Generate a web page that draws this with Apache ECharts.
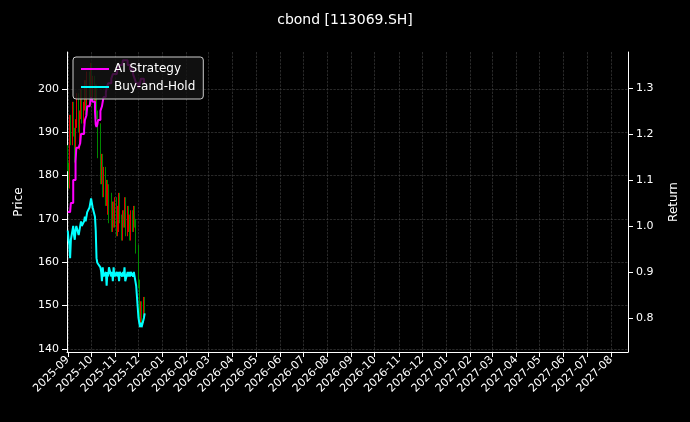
<!DOCTYPE html>
<html>
<head>
<meta charset="utf-8">
<script src="https://cdn.jsdelivr.net/npm/echarts@6/dist/echarts.min.js"></script>
<style>html,body{margin:0;background:#000}#c{width:690px;height:422px}</style>
</head>
<body>
<div id="c"></div>
<script>
// closes, Sep 1 .. Dec 9 2025 (weekdays)
var closes = [182,178,186,193,188,196,190,184,192,198,191,187,194,199,193,196,201,195,198,203,197,200,
  205,199,202,196,200,194,190,185,191,179,184,176,181,174,178,172,177,170,175,168,173,169,174,
  167,172,168,175,170,166,171,169,174,167,172,168,170,166,171,168,172,169,167,163,
  155,148,146,150,147,151,149];
var aiReturn = [1.03,1.03,1.03,1.03,1.05,1.10,1.10,1.10,1.14,1.17,1.17,1.17,1.18,1.20,1.20,1.21,1.23,1.23,1.24,1.26,1.26,1.27,
  1.28,1.28,1.27,1.25,1.22,1.215,1.22,1.23,1.25,1.25,1.26,1.27,1.28,1.29,1.30,1.30,1.31,1.31,1.32,1.32,1.33,1.33,1.33,
  1.33,1.34,1.34,1.35,1.35,1.35,1.36,1.36,1.36,1.36,1.35,1.35,1.35,1.34,1.34,1.33,1.33,1.32,1.32,1.31,
  1.30,1.30,1.31,1.32,1.32,1.31,1.31];
var bhReturn = [0.99,0.97,0.96,0.93,0.97,1.00,0.98,0.97,0.99,1.00,0.98,0.99,1.00,1.01,1.00,1.01,1.02,1.01,1.01,1.03,1.04,1.05,
  1.06,1.05,1.04,1.02,0.99,0.93,0.92,0.92,0.91,0.90,0.88,0.91,0.89,0.90,0.87,0.90,0.89,0.91,0.89,0.90,0.88,0.91,0.89,
  0.90,0.89,0.90,0.88,0.90,0.89,0.90,0.89,0.91,0.88,0.90,0.89,0.90,0.89,0.90,0.89,0.90,0.89,0.88,0.87,
  0.80,0.79,0.78,0.79,0.78,0.80,0.81];
var priceTicks = [140,150,160,170,180,190,200];
var returnTicks = [0.8,0.9,1.0,1.1,1.2,1.3];

// weekday dates
var dates = [];
var d = new Date(Date.UTC(2025, 8, 1));
while (dates.length < closes.length) {
  var wd = d.getUTCDay();
  if (wd !== 0 && wd !== 6) dates.push(d.getTime());
  d = new Date(d.getTime() + 86400000);
}
var months = [];
for (var m = 0; m < 24; m++) months.push(Date.UTC(2025, 8 + m, 1));

var candles = closes.map(function (c, i) {
  var o = i === 0 ? 186 : closes[i - 1];
  return [dates[i], o, c, Math.min(o, c) - 1, Math.max(o, c) + 1];
});

var gridLine = { show: true, lineStyle: { color: '#444', type: 'dashed', width: 0.6 } };
var chart = echarts.init(document.getElementById('c'));
var fmt = function (v) { var t = new Date(v); return t.getUTCFullYear() + '-' + String(t.getUTCMonth() + 1).padStart(2, '0'); };
chart.setOption({
  backgroundColor: '#000',
  animation: false,
  textStyle: { fontFamily: 'DejaVu Sans' },
  title: { text: 'cbond [113069.SH]', left: 'center', top: 8, textStyle: { color: '#fff', fontSize: 14, fontWeight: 'normal' } },
  legend: {
    left: 73, top: 57, orient: 'vertical', itemGap: 6, padding: [6, 8],
    backgroundColor: 'rgba(20,20,20,0.8)', borderColor: '#ccc', borderWidth: 1, borderRadius: 3,
    textStyle: { color: '#fff', fontSize: 12 }, itemWidth: 28, itemHeight: 2,
    data: [{ name: 'AI Strategy', icon: 'rect' }, { name: 'Buy-and-Hold', icon: 'rect' }]
  },
  grid: { left: 67, right: 62, top: 52, bottom: 70 },
  xAxis: {
    type: 'value', min: Date.UTC(2025, 7, 31), max: Date.UTC(2027, 7, 23),
    axisLine: { lineStyle: { color: '#fff' } },
    axisTick: { show: true, customValues: months, lineStyle: { color: '#fff' } },
    axisLabel: { customValues: months, formatter: fmt, rotate: 45, color: '#fff', fontSize: 11, margin: 6 },
    splitLine: gridLine
  },
  yAxis: [{
    type: 'value', min: 139.3, max: 208.5, name: 'Price', nameLocation: 'middle', nameGap: 42,
    nameTextStyle: { color: '#fff', fontSize: 12 },
    axisLine: { show: true, lineStyle: { color: '#fff' } }, axisTick: { show: true, customValues: priceTicks },
    axisLabel: { color: '#fff', fontSize: 11, customValues: priceTicks },
    splitLine: gridLine
  }, {
    type: 'value', min: 0.726, max: 1.378, name: 'Return', nameLocation: 'middle', nameGap: 40,
    nameTextStyle: { color: '#fff', fontSize: 12 },
    axisLine: { show: true, lineStyle: { color: '#fff' } }, axisTick: { show: true, customValues: returnTicks },
    axisLabel: { color: '#fff', fontSize: 11, customValues: returnTicks, formatter: function (v) { return v.toFixed(1); } },
    splitLine: { show: false }
  }],
  series: [{
    type: 'candlestick', data: candles, barWidth: 1.2,
    itemStyle: { color: '#e00000', color0: '#008800', borderColor: '#e00000', borderColor0: '#008800', borderWidth: 1 }
  }, {
    name: 'AI Strategy', type: 'line', yAxisIndex: 1, showSymbol: false, step: 'end',
    data: dates.map(function (t, i) { return [t, aiReturn[i]]; }),
    lineStyle: { color: '#ff00ff', width: 2 }, itemStyle: { color: '#ff00ff' }
  }, {
    name: 'Buy-and-Hold', type: 'line', yAxisIndex: 1, showSymbol: false,
    data: dates.map(function (t, i) { return [t, bhReturn[i]]; }),
    lineStyle: { color: '#00ffff', width: 2 }, itemStyle: { color: '#00ffff' }
  }]
});
</script>
</body>
</html>
